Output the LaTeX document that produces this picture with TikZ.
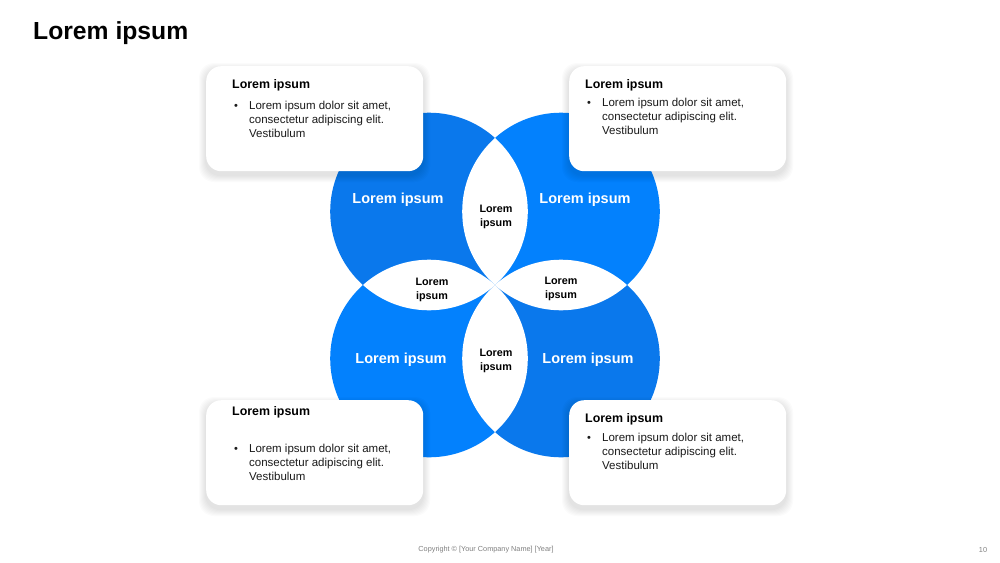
\documentclass[tikz,border=0pt]{standalone}
\usepackage{fontspec}
\setmainfont{Liberation Sans}
\usetikzlibrary{calc}
\definecolor{blueA}{HTML}{0A78EC}
\definecolor{blueB}{HTML}{0381FD}
\definecolor{txt}{HTML}{1A1A1A}
\definecolor{foot}{HTML}{808080}
\newcommand\softshadow[2]{%
  \foreach \i in {1,...,7}{%
    \fill[black, opacity=0.016, rounded corners=15pt] ($(#1)+(-\i,-\i+4)$) rectangle ($(#2)+(\i,\i+4)$);}}
\begin{document}
\begin{tikzpicture}[x=1pt,y=-1pt,
  card/.style={draw=none, fill=white, rounded corners=15pt, minimum width=217pt, minimum height=105pt, inner sep=0pt},
  cardtitle/.style={anchor=base west, inner sep=0pt, font=\bfseries\fontsize{12.4}{14}\selectfont, text=black},
  bullet/.style={anchor=base west, inner sep=0pt, font=\fontsize{11}{14}\selectfont, text=txt},
  bodytext/.style={anchor=north west, inner sep=0pt, align=left, font=\fontsize{11.5}{14}\selectfont, text=txt},
  petal/.style={text=white, font=\bfseries\fontsize{14.5}{16}\selectfont, inner sep=0pt},
  lens/.style={text=black, font=\bfseries\fontsize{10.8}{13.3}\selectfont, align=center, inner sep=0pt}
]
\useasboundingbox (0,0) rectangle (1000,562);
\fill[white] (0,0) rectangle (1000,562);

% title
\node[anchor=base west, inner sep=0pt, font=\bfseries\fontsize{24.7}{28}\selectfont] (title) at (33,39) {Lorem ipsum};

% circle centres
\coordinate (cTL) at (429,211.5);
\coordinate (cTR) at (561,211.5);
\coordinate (cBL) at (429,358.5);
\coordinate (cBR) at (561,358.5);
\def\R{98.8}

\fill[blueA] (cTL) circle[radius=\R];
\fill[blueB] (cTR) circle[radius=\R];
\fill[blueB] (cBL) circle[radius=\R];
\fill[blueA] (cBR) circle[radius=\R];

% white lenses
\begin{scope}\clip (cTL) circle[radius=\R]; \fill[white] (cTR) circle[radius=\R]; \end{scope}
\begin{scope}\clip (cTL) circle[radius=\R]; \fill[white] (cBL) circle[radius=\R]; \end{scope}
\begin{scope}\clip (cBR) circle[radius=\R]; \fill[white] (cTR) circle[radius=\R]; \end{scope}
\begin{scope}\clip (cBR) circle[radius=\R]; \fill[white] (cBL) circle[radius=\R]; \end{scope}

% petal labels
\node[petal] (pTL) at (398,200) {Lorem ipsum};
\node[petal] (pTR) at (585,200) {Lorem ipsum};
\node[petal] (pBL) at (401,360) {Lorem ipsum};
\node[petal] (pBR) at (588,360) {Lorem ipsum};

% lens labels
\node[lens] (lT) at (496,217) {Lorem\\ipsum};
\node[lens] (lL) at (432,290) {Lorem\\ipsum};
\node[lens] (lR) at (561,289) {Lorem\\ipsum};
\node[lens] (lB) at (496,361) {Lorem\\ipsum};

% card shadows
\softshadow{206,66}{423,171}
\softshadow{569,66}{786,171}
\softshadow{206,400}{423,505}
\softshadow{569,400}{786,505}

% cards
\node[card, anchor=north west] (boxTL) at (206,66) {};
\node[card, anchor=north west] (boxTR) at (569,66) {};
\node[card, anchor=north west] (boxBL) at (206,400) {};
\node[card, anchor=north west] (boxBR) at (569,400) {};

% card TL
\node[cardtitle] (tTL) at (232,88.5) {Lorem ipsum};
\node[bullet] (bTL) at (234,109.5) {•};
\node[bodytext] (xTL) at (249,100.5) {Lorem ipsum dolor sit amet,\\consectetur adipiscing elit.\\Vestibulum};

% card TR
\node[cardtitle] (tTR) at (585,88.5) {Lorem ipsum};
\node[bullet] (bTR) at (587,106.5) {•};
\node[bodytext] (xTR) at (602,97.5) {Lorem ipsum dolor sit amet,\\consectetur adipiscing elit.\\Vestibulum};

% card BL
\node[cardtitle] (tBL) at (232,415) {Lorem ipsum};
\node[bullet] (bBL) at (234,452.5) {•};
\node[bodytext] (xBL) at (249,443.5) {Lorem ipsum dolor sit amet,\\consectetur adipiscing elit.\\Vestibulum};

% card BR
\node[cardtitle] (tBR) at (585,422.5) {Lorem ipsum};
\node[bullet] (bBR) at (587,441.5) {•};
\node[bodytext] (xBR) at (602,432.5) {Lorem ipsum dolor sit amet,\\consectetur adipiscing elit.\\Vestibulum};

% footer
\node[inner sep=0pt, font=\fontsize{7.3}{9}\selectfont, text=foot] (copy) at (486,550) {Copyright © [Your Company Name] [Year]};
\node[inner sep=0pt, font=\fontsize{7.3}{9}\selectfont, text=foot] (page) at (983,550) {10};
\end{tikzpicture}
\end{document}
